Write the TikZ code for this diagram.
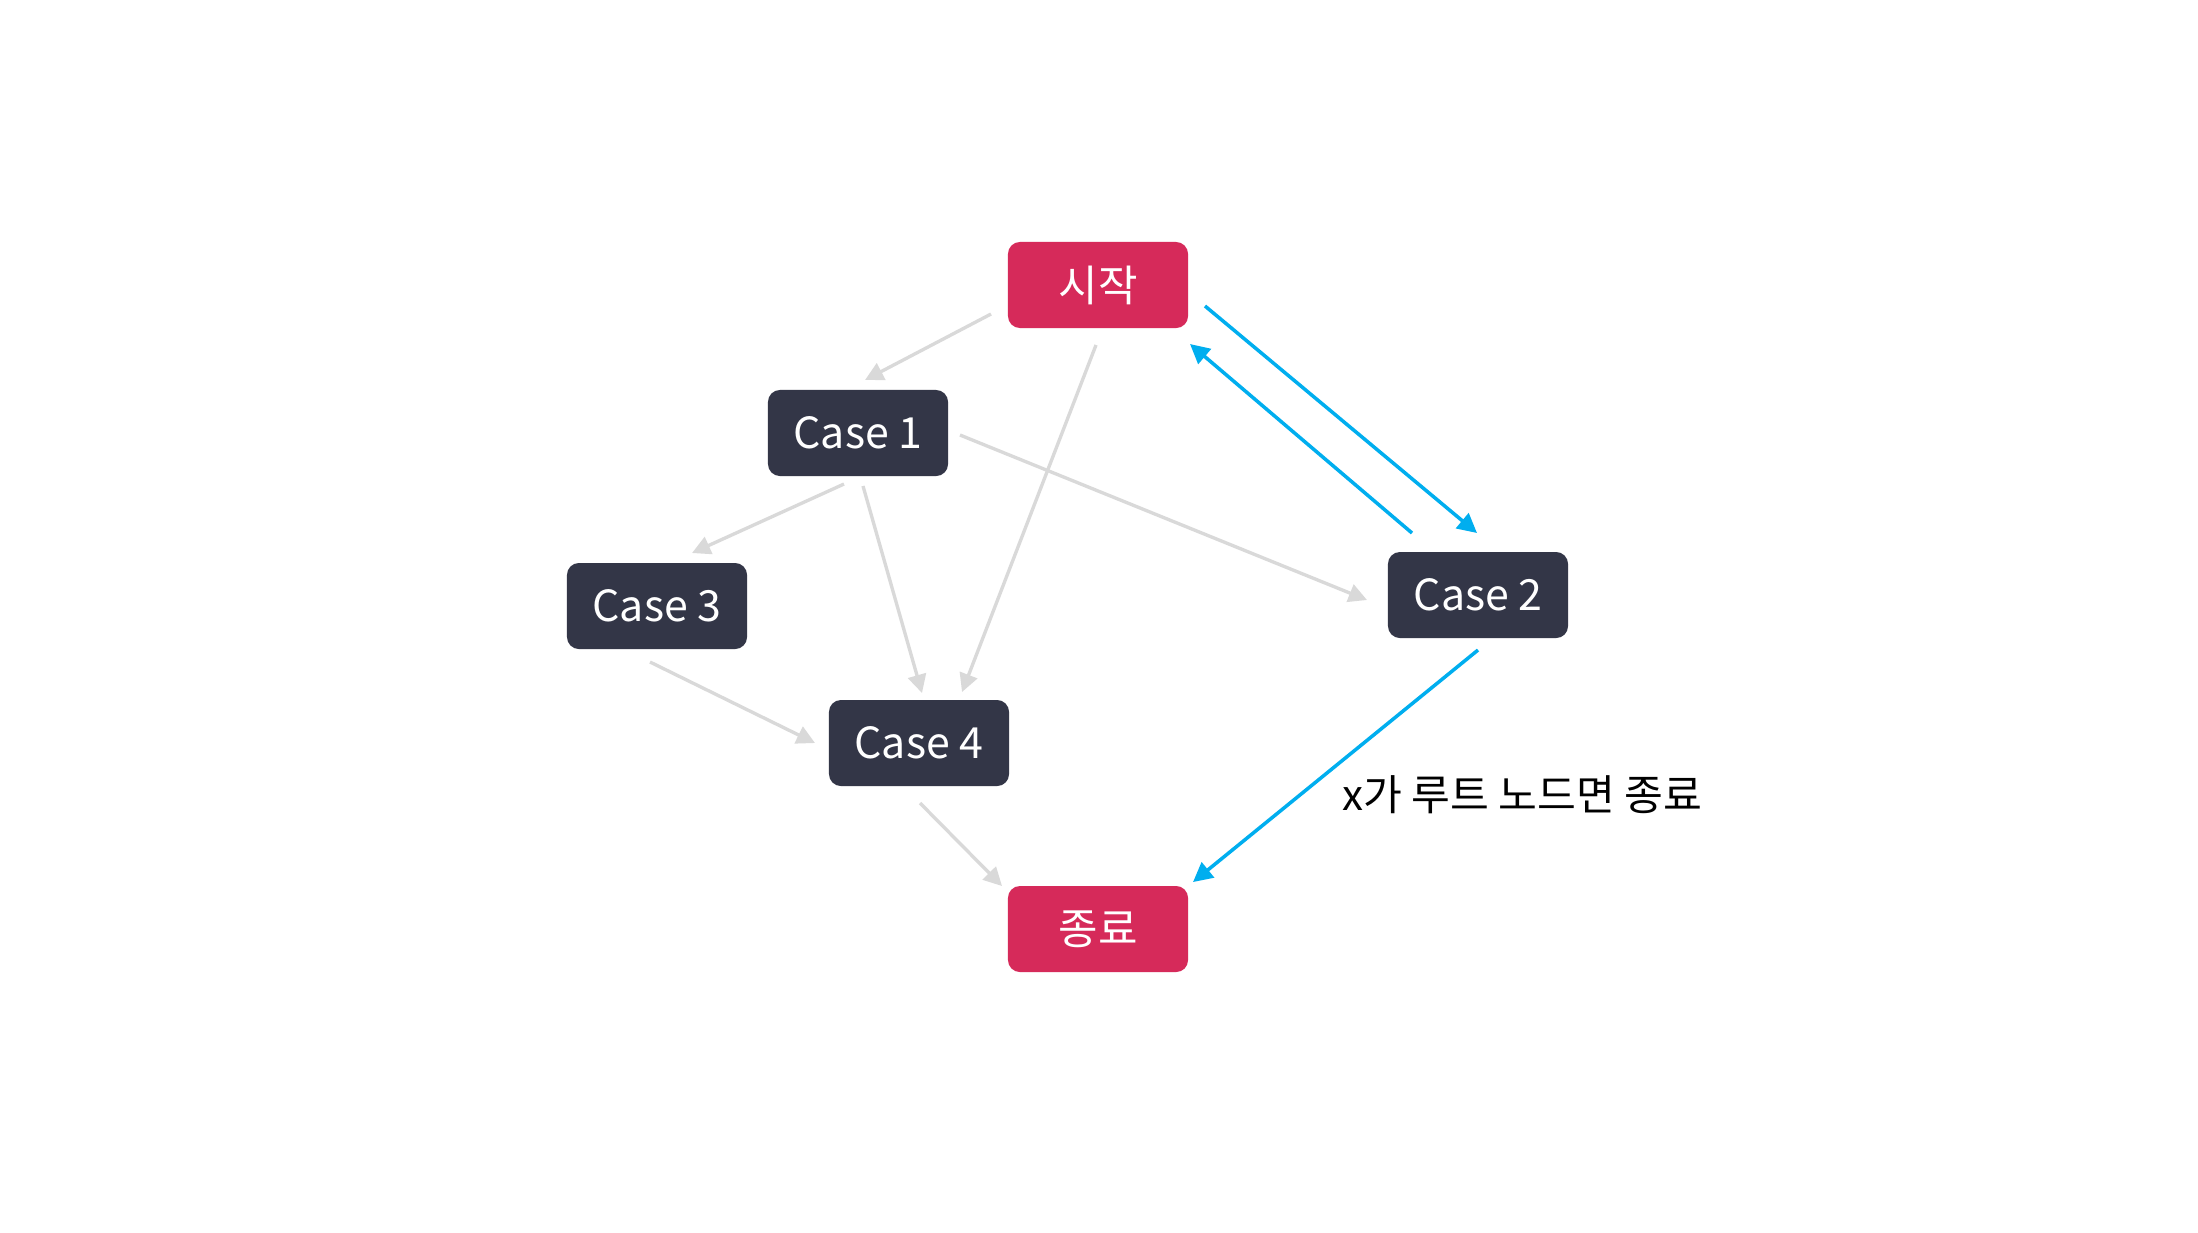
\documentclass[tikz,border=0pt]{standalone}
\usepackage{fontspec}
\setmainfont{Noto Sans CJK KR}
\usetikzlibrary{arrows.meta,calc}
\definecolor{redbox}{RGB}{214,42,90}
\definecolor{darkbox}{RGB}{51,54,71}
\definecolor{grayline}{RGB}{217,217,217}
\definecolor{blueline}{RGB}{0,174,239}
\tikzset{
  box/.style={rectangle, rounded corners=0.12cm, minimum width=1.8cm, minimum height=0.86cm, inner sep=0pt, text=white, font=\fontsize{12.2}{14}\selectfont},
  redn/.style={box, fill=redbox},
  darkn/.style={box, fill=darkbox},
  grayarr/.style={draw=grayline, line width=0.95pt, -{Triangle[length=5.2pt,width=5.2pt]}},
  bluearr/.style={draw=blueline, line width=1pt, -{Triangle[length=5.5pt,width=5.5pt]}},
  lbl/.style={font=\fontsize{12}{14}\selectfont, text=black, inner sep=0pt}
}
\begin{document}
\begin{tikzpicture}[x=0.01cm,y=-0.01cm]
\useasboundingbox[fill=white] (0,0) rectangle (2198,1232);
\node[redn] (start) at (1098,285) {시작};
\node[darkn] (c1) at (858,433) {Case 1};
\node[darkn] (c3) at (657,606) {Case 3};
\node[darkn] (c4) at (919,743) {Case 4};
\node[darkn] (c2) at (1478,595) {Case 2};
\node[redn] (end) at (1098,929) {종료};
\node[lbl] (lab) at (1522,795) {x가 루트 노드면 종료};
% gray arrows
\draw[grayarr] ($(start)+(-107,29)$) -- ($(c1)+(7,-53)$);
\draw[grayarr] ($(start)+(-2,60)$) -- ($(c4)+(43,-51)$);
\draw[grayarr] ($(c1)+(102,2)$) -- ($(c2)+(-111,5)$);
\draw[grayarr] ($(c1)+(-14,51)$) -- ($(c3)+(35,-53)$);
\draw[grayarr] ($(c1)+(5,53)$) -- ($(c4)+(3,-50)$);
\draw[grayarr] ($(c3)+(-7,56)$) -- ($(c4)+(-104,0)$);
\draw[grayarr] ($(c4)+(1,60)$) -- ($(end)+(-96,-43)$);
% blue arrows
\draw[bluearr] ($(start)+(107,21)$) -- ($(c2)+(-1,-62)$);
\draw[bluearr] ($(c2)+(-66,-62)$) -- ($(start)+(92,59)$);
\draw[bluearr] ($(c2)+(0,55)$) -- ($(end)+(95,-47)$);
\end{tikzpicture}
\end{document}
